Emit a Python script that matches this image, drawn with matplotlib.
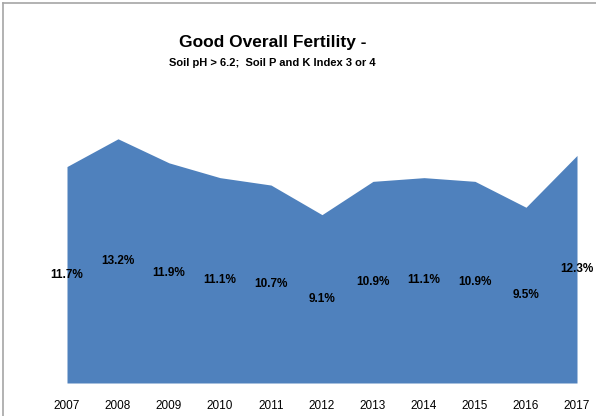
import matplotlib.pyplot as plt
from matplotlib.lines import Line2D

years = [2007, 2008, 2009, 2010, 2011, 2012, 2013, 2014, 2015, 2016, 2017]
values = [11.7, 13.2, 11.9, 11.1, 10.7, 9.1, 10.9, 11.1, 10.9, 9.5, 12.3]
labels = ['%.1f%%' % v for v in values]

plt.rcParams['font.family'] = ['Liberation Sans', 'DejaVu Sans']

fig = plt.figure(figsize=(5.96, 4.16), dpi=100)
ax = fig.add_axes([67 / 596, 33 / 416, 510 / 596, 296 / 416])

ax.fill_between(years, values, 0, color='#4F81BD', linewidth=0)
for x, v, t in zip(years, values, labels):
    ax.text(x, v / 2, t, ha='center', va='center', fontsize=8.5, fontweight='bold', color='black')

ax.set_xlim(years[0], years[-1])
ax.set_ylim(0, 16)
ax.set_xticks(years)
ax.set_xticklabels([str(y) for y in years], fontsize=8.5)
ax.tick_params(axis='x', length=0, pad=12)
ax.set_yticks([])
for s in ax.spines.values():
    s.set_visible(False)

fig.text(0.457, 0.898, 'Good Overall Fertility -', ha='center', va='center',
         fontsize=12.5, fontweight='bold')
fig.text(0.457, 0.848, 'Soil pH > 6.2;  Soil P and K Index 3 or 4', ha='center', va='center',
         fontsize=8, fontweight='bold')

# chart border (left and top edges)
fig.add_artist(Line2D([2.5 / 596, 2.5 / 596], [0, 1 - 2.5 / 416], color='#a6a6a6', lw=1.2))
fig.add_artist(Line2D([2.5 / 596, 1], [1 - 2.5 / 416, 1 - 2.5 / 416], color='#a6a6a6', lw=1.2))

fig.savefig('out.png', dpi=100)
